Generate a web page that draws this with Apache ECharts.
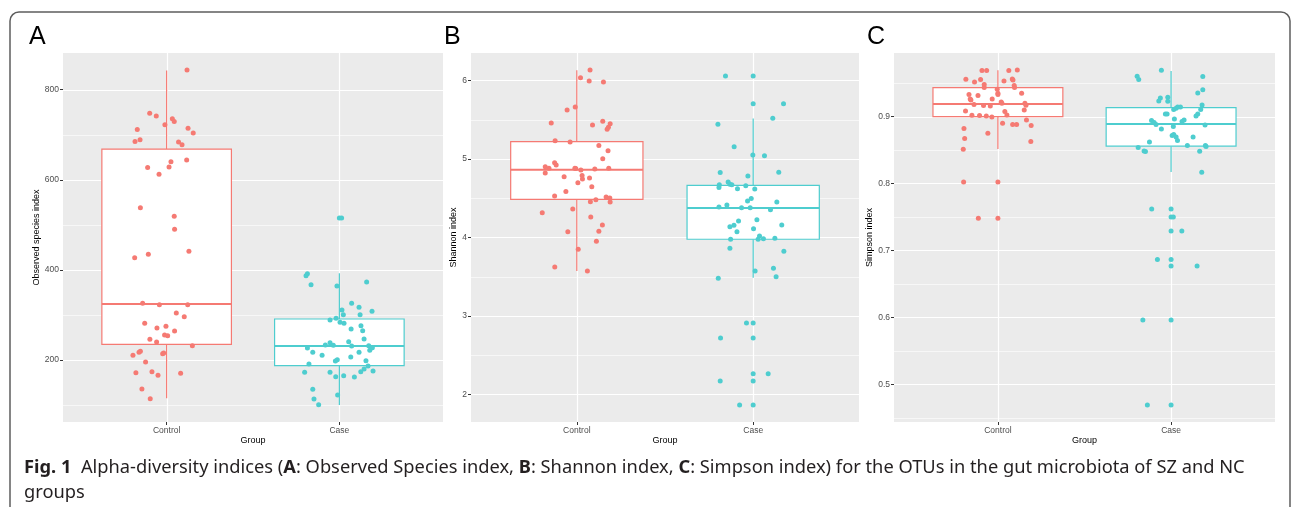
<!DOCTYPE html>
<html>
<head>
<meta charset="utf-8">
<script src="https://cdn.jsdelivr.net/npm/echarts@6/dist/echarts.min.js"></script>
<style>
  html, body { margin: 0; padding: 0; background: #fff; }
  #chart { width: 1292px; height: 507px; }
</style>
</head>
<body>
<div id="chart"></div>
<script>
// alpha diversity boxplots, 3 panels (ggplot look)

const groups = ["Control", "Case"];
const groupColors = ["#F57A73", "#4ECDCF"];

// A: Observed species index
const obsControlVals = [843.6, 747.5, 741.5, 735.6, 729.7, 722.3, 711.9, 714.2, 703.8, 689.0, 685.3, 683.8, 677.9, 643.9, 640.2, 627.6, 628.4, 612.1, 538.1, 518.9, 490.0, 441.2, 434.5, 427.1, 325.8, 322.8, 322.8, 304.3, 296.2, 281.4, 274.7, 271.0, 264.4, 255.5, 254.0, 245.9, 240.0, 231.8, 219.2, 217.0, 215.5, 214.1, 210.4, 195.6, 171.9, 174.1, 166.0, 170.4, 135.6, 114.2];
const obsControlJit = [0.118, -0.098, -0.060, 0.033, 0.044, -0.010, -0.170, 0.124, 0.154, -0.154, -0.183, 0.069, 0.089, 0.116, 0.025, -0.110, 0.014, -0.044, -0.152, 0.044, 0.046, 0.129, -0.106, -0.185, -0.139, -0.042, 0.122, 0.056, 0.102, -0.127, -0.004, -0.056, 0.046, -0.012, 0.006, -0.097, -0.058, 0.149, -0.152, -0.160, -0.017, -0.023, -0.195, -0.122, -0.178, -0.085, -0.050, 0.081, -0.143, -0.095];
const obsCaseVals = [515.2, 391.6, 387.2, 367.2, 364.2, 373.1, 325.8, 316.9, 308.0, 311.0, 300.6, 300.6, 288.8, 292.5, 283.6, 281.4, 276.2, 268.8, 265.1, 246.6, 240.7, 238.5, 233.3, 232.6, 231.1, 231.8, 227.4, 226.6, 221.5, 217.0, 217.0, 210.4, 206.7, 200.7, 197.8, 198.5, 191.1, 186.7, 180.0, 172.6, 172.6, 174.1, 175.6, 163.0, 165.2, 162.3, 134.9, 113.4, 122.3, 100.9];
const obsCaseJit = [0.013, -0.185, -0.193, -0.164, -0.014, 0.158, 0.071, 0.114, 0.189, 0.015, 0.023, 0.120, -0.054, -0.019, 0.004, 0.027, 0.125, 0.068, 0.135, 0.143, 0.054, -0.054, -0.081, -0.035, 0.071, 0.170, 0.191, -0.185, 0.176, -0.154, 0.114, -0.100, 0.066, -0.012, -0.023, 0.154, -0.176, 0.166, 0.143, -0.201, -0.054, 0.124, 0.195, -0.021, 0.025, 0.087, -0.154, -0.147, -0.010, -0.120];
// [min, q1, median, q3, max] per group
const obsBox = [[114.9, 234.8, 324.3, 668.3, 842.9], [100.1, 187.4, 231.1, 291.0, 392.4]];
const obsOutliers = [[], [515.2]];
const obsTicks = [200, 400, 600, 800];
const obsMinor = [100, 300, 500, 700];

// B: Shannon index
const shanControlVals = [6.132, 6.034, 5.992, 5.979, 5.660, 5.622, 5.456, 5.431, 5.478, 5.448, 5.401, 5.376, 5.231, 5.214, 5.168, 5.104, 5.002, 4.951, 4.921, 4.900, 4.879, 4.879, 4.875, 4.870, 4.879, 4.858, 4.820, 4.773, 4.786, 4.756, 4.743, 4.696, 4.645, 4.582, 4.527, 4.514, 4.501, 4.480, 4.454, 4.450, 4.314, 4.361, 4.259, 4.157, 4.072, 4.076, 3.949, 3.847, 3.622, 3.571];
const shanControlJit = [0.075, 0.021, 0.070, 0.151, -0.009, -0.055, -0.145, 0.089, 0.147, 0.189, 0.179, 0.172, -0.123, -0.038, 0.125, 0.177, 0.147, -0.126, -0.117, -0.179, -0.158, -0.011, -0.006, 0.102, 0.181, 0.023, -0.179, -0.072, 0.030, 0.072, 0.032, 0.006, 0.085, -0.062, -0.126, 0.166, 0.187, 0.108, 0.077, 0.189, -0.196, -0.023, 0.079, 0.145, -0.051, 0.125, 0.111, 0.008, -0.125, 0.060];
const shanCaseVals = [6.055, 5.703, 5.516, 5.439, 5.155, 5.049, 5.040, 4.824, 4.828, 4.781, 4.705, 4.671, 4.675, 4.671, 4.633, 4.658, 4.620, 4.616, 4.493, 4.463, 4.450, 4.412, 4.386, 4.378, 4.378, 4.352, 4.208, 4.225, 4.153, 4.136, 4.157, 4.110, 4.072, 4.017, 3.975, 3.975, 3.983, 3.987, 3.860, 3.822, 3.571, 3.605, 3.499, 3.478, 2.909, 2.718, 2.263, 2.170, 1.864];
const shanCaseJit = [-0.157, 0.172, 0.111, -0.200, -0.108, -0.002, 0.064, -0.187, 0.145, -0.030, -0.142, -0.192, -0.132, -0.121, -0.194, -0.042, -0.089, 0.009, -0.011, -0.032, 0.134, -0.149, -0.194, -0.066, -0.017, 0.098, -0.083, 0.021, -0.109, -0.132, 0.162, 0.002, -0.092, 0.036, -0.128, 0.028, 0.058, 0.123, -0.132, 0.174, 0.011, 0.115, 0.130, -0.198, -0.038, -0.185, 0.085, -0.187, -0.077];
const shanBox = [[3.571, 4.484, 4.862, 5.219, 6.127], [3.486, 3.975, 4.374, 4.662, 5.512]];
const shanOutliers = [[], [6.055, 5.703, 2.909, 2.718, 2.263, 2.170, 1.864]];
const shanTicks = [2, 3, 4, 5, 6];
const shanMinor = [2.5, 3.5, 4.5, 5.5];

// C: Simpson index
const simpControlVals = [0.9697, 0.9687, 0.9687, 0.9687, 0.9558, 0.9553, 0.9563, 0.9548, 0.9518, 0.9533, 0.9478, 0.9433, 0.9463, 0.9433, 0.9408, 0.9349, 0.9329, 0.9329, 0.9314, 0.9349, 0.9264, 0.9249, 0.9264, 0.9219, 0.9199, 0.9199, 0.9169, 0.9179, 0.9164, 0.9159, 0.9100, 0.9085, 0.9075, 0.9025, 0.9020, 0.9015, 0.9010, 0.8995, 0.8950, 0.8900, 0.8880, 0.8880, 0.8865, 0.8821, 0.8751, 0.8671, 0.8626, 0.8512, 0.8024, 0.7481];
const simpControlJit = [0.112, 0.063, -0.092, -0.065, -0.185, -0.100, 0.083, 0.087, -0.135, 0.035, -0.079, -0.079, 0.094, 0.096, -0.004, 0.000, 0.000, -0.167, -0.115, 0.137, -0.160, -0.156, -0.033, 0.019, 0.023, 0.156, 0.162, -0.138, -0.083, -0.044, 0.152, -0.187, 0.040, 0.052, -0.150, -0.106, -0.067, -0.035, 0.165, 0.027, 0.085, 0.108, 0.192, -0.196, -0.058, -0.192, 0.190, -0.200, -0.198, -0.113];
const simpCaseVals = [0.9692, 0.9603, 0.9553, 0.9598, 0.9399, 0.9354, 0.9279, 0.9289, 0.9234, 0.9229, 0.9174, 0.9144, 0.9144, 0.9125, 0.9105, 0.9105, 0.9040, 0.9040, 0.9040, 0.9010, 0.8965, 0.8950, 0.8940, 0.8925, 0.8910, 0.8880, 0.8875, 0.8851, 0.8816, 0.8716, 0.8731, 0.8696, 0.8696, 0.8641, 0.8621, 0.8567, 0.8567, 0.8552, 0.8537, 0.8487, 0.8477, 0.8482, 0.8168, 0.7620, 0.7501, 0.7291, 0.6863, 0.6768, 0.5961, 0.4691];
const simpCaseJit = [-0.056, -0.196, -0.187, 0.183, 0.183, 0.154, -0.062, -0.019, -0.071, -0.019, 0.179, 0.038, 0.054, 0.029, 0.015, 0.171, -0.033, -0.023, 0.154, 0.144, 0.019, 0.075, -0.113, 0.063, -0.098, -0.087, 0.196, 0.013, -0.056, 0.006, 0.015, 0.029, 0.127, 0.037, -0.125, 0.094, 0.198, 0.202, -0.190, -0.156, -0.148, 0.165, 0.177, -0.112, 0.013, 0.062, -0.079, 0.150, -0.163, -0.137];
const simpBox = [[0.8517, 0.9000, 0.9189, 0.9433, 0.9692], [0.8173, 0.8557, 0.8890, 0.9135, 0.9682]];
const simpOutliers = [[0.8024, 0.7481], [0.7620, 0.7501, 0.7291, 0.6863, 0.6768, 0.5961, 0.4691]];
const simpTicks = [0.5, 0.6, 0.7, 0.8, 0.9];
const simpMinor = [0.45, 0.55, 0.65, 0.75, 0.85, 0.95];

const panels = [
  { letter: "A", yName: "Observed species index", left: 63, width: 380, yMin: 62.4, yMax: 881.5, nameGap: 22,
    vals: [obsControlVals, obsCaseVals], jit: [obsControlJit, obsCaseJit], box: obsBox, out: obsOutliers, ticks: obsTicks, minor: obsMinor },
  { letter: "B", yName: "Shannon index", left: 471, width: 388, yMin: 1.647, yMax: 6.348, nameGap: 13,
    vals: [shanControlVals, shanCaseVals], jit: [shanControlJit, shanCaseJit], box: shanBox, out: shanOutliers, ticks: shanTicks, minor: shanMinor },
  { letter: "C", yName: "Simpson index", left: 894, width: 381, yMin: 0.4436, yMax: 0.995, nameGap: 20,
    vals: [simpControlVals, simpCaseVals], jit: [simpControlJit, simpCaseJit], box: simpBox, out: simpOutliers, ticks: simpTicks, minor: simpMinor }
];

const PLOT_TOP = 53, PLOT_H = 369;
const BOX_HALF = 0.375;

const grids = [], xAxes = [], yAxes = [], series = [];

panels.forEach((p, i) => {
  grids.push({ left: p.left, top: PLOT_TOP, width: p.width, height: PLOT_H, show: true, backgroundColor: "#EBEBEB", borderWidth: 0 });
  xAxes.push({
    gridIndex: i, type: "value", min: 0.4, max: 2.6,
    name: "Group", nameLocation: "middle", nameGap: 18, nameMoveOverlap: false,
    nameTextStyle: { color: "#000", fontSize: 9, lineHeight: 1 },
    axisLine: { show: false },
    axisTick: { show: true, customValues: [1, 2], length: 3, lineStyle: { color: "#333", width: 1 } },
    axisLabel: { customValues: [1, 2], margin: 4, color: "#4D4D4D", fontSize: 8.5, formatter: (v) => groups[Math.round(v) - 1] },
    splitLine: { show: false }
  });
  yAxes.push({
    gridIndex: i, type: "value", min: p.yMin, max: p.yMax,
    name: p.yName, nameLocation: "middle", nameRotate: 90, nameGap: p.nameGap,
    nameTextStyle: { color: "#000", fontSize: 9 },
    axisLine: { show: false },
    axisTick: { show: true, customValues: p.ticks, length: 3, lineStyle: { color: "#333", width: 1 } },
    axisLabel: { customValues: p.ticks, margin: 4, color: "#4D4D4D", fontSize: 8.5 },
    splitLine: { show: false }
  });

  // white grid lines (major + minor horizontal, major vertical at groups)
  const hLines = p.ticks.map((v) => [1, v, 1]).concat(p.minor.map((v) => [1, v, 0]));
  series.push({
    type: "custom", xAxisIndex: i, yAxisIndex: i, z: 1, silent: true, clip: true,
    data: hLines,
    renderItem: (params, api) => {
      const cs = params.coordSys;
      const y = Math.round(api.coord([1, api.value(1)])[1]) + 0.5;
      const major = api.value(2) === 1;
      return { type: "line", shape: { x1: cs.x, y1: y, x2: cs.x + cs.width, y2: y },
        style: { stroke: "#FFFFFF", lineWidth: major ? 1.2 : 0.6 } };
    }
  });
  series.push({
    type: "custom", xAxisIndex: i, yAxisIndex: i, z: 1, silent: true,
    data: [[1, p.yMin], [2, p.yMin]],
    renderItem: (params, api) => {
      const cs = params.coordSys;
      const x = Math.round(api.coord([api.value(0), p.yMin])[0]) + 0.5;
      return { type: "line", shape: { x1: x, y1: cs.y, x2: x, y2: cs.y + cs.height },
        style: { stroke: "#FFFFFF", lineWidth: 1.2 } };
    }
  });

  // box plots
  series.push({
    type: "custom", xAxisIndex: i, yAxisIndex: i, z: 2, silent: true,
    data: p.box.map((b, g) => [g + 1].concat(b)),
    renderItem: (params, api) => {
      const xc = api.value(0);
      const col = groupColors[params.dataIndex];
      const lo = api.coord([xc, api.value(1)]);
      const q1 = api.coord([xc - BOX_HALF, api.value(2)]);
      const med = api.coord([xc, api.value(3)]);
      const q3 = api.coord([xc + BOX_HALF, api.value(4)]);
      const hi = api.coord([xc, api.value(5)]);
      const ls = { stroke: col, lineWidth: 1.2 };
      return {
        type: "group",
        children: [
          { type: "line", shape: { x1: lo[0], y1: lo[1], x2: lo[0], y2: q1[1] }, style: ls },
          { type: "line", shape: { x1: hi[0], y1: hi[1], x2: hi[0], y2: q3[1] }, style: ls },
          { type: "rect", shape: { x: q1[0], y: q3[1], width: q3[0] - q1[0], height: q1[1] - q3[1] },
            style: { fill: "#FFFFFF", stroke: col, lineWidth: 1.2 } },
          { type: "line", shape: { x1: q1[0], y1: med[1], x2: q3[0], y2: med[1] }, style: { stroke: col, lineWidth: 2 } }
        ]
      };
    }
  });

  // outliers at the box centre, then jittered points
  groups.forEach((g, gi) => {
    series.push({
      type: "scatter", xAxisIndex: i, yAxisIndex: i, z: 3, silent: true,
      symbolSize: 5, itemStyle: { color: groupColors[gi], opacity: 1 },
      data: p.out[gi].map((v) => [gi + 1, v])
    });
    series.push({
      type: "scatter", xAxisIndex: i, yAxisIndex: i, z: 4, silent: true,
      symbolSize: 5, itemStyle: { color: groupColors[gi], opacity: 1 },
      data: p.vals[gi].map((v, k) => [gi + 1 + p.jit[gi][k], v])
    });
  });
});

const chart = echarts.init(document.getElementById("chart"), null, { renderer: "canvas" });

const graphics = [
  { type: "rect", shape: { x: 10, y: 12, width: 1280, height: 620, r: 9 }, style: { fill: "none", stroke: "#5E5E5E", lineWidth: 1.5 }, z: 0 }
];
panels.forEach((p) => {
  graphics.push({ type: "text", left: p.left - (p.letter === "A" ? 34 : 27), top: 25,
    style: { text: p.letter, fontSize: 25, fontFamily: "Liberation Sans", fill: "#000" } });
});
graphics.push({
  type: "text", left: 24, top: 455,
  style: {
    text: "{b|Fig. 1}  Alpha-diversity indices ({b|A}: Observed Species index, {b|B}: Shannon index, {b|C}: Simpson index) for the OTUs in the gut microbiota of SZ and NC\ngroups",
    fontSize: 18.3, fontFamily: "Noto Sans", fill: "#231F20", lineHeight: 25,
    rich: { b: { fontWeight: "bold", fontSize: 18.3, fontFamily: "Noto Sans", fill: "#231F20", lineHeight: 25 } }
  }
});

chart.setOption({
  animation: false,
  textStyle: { fontFamily: "Liberation Sans" },
  grid: grids,
  xAxis: xAxes,
  yAxis: yAxes,
  series: series,
  graphic: graphics
});
</script>
</body>
</html>
